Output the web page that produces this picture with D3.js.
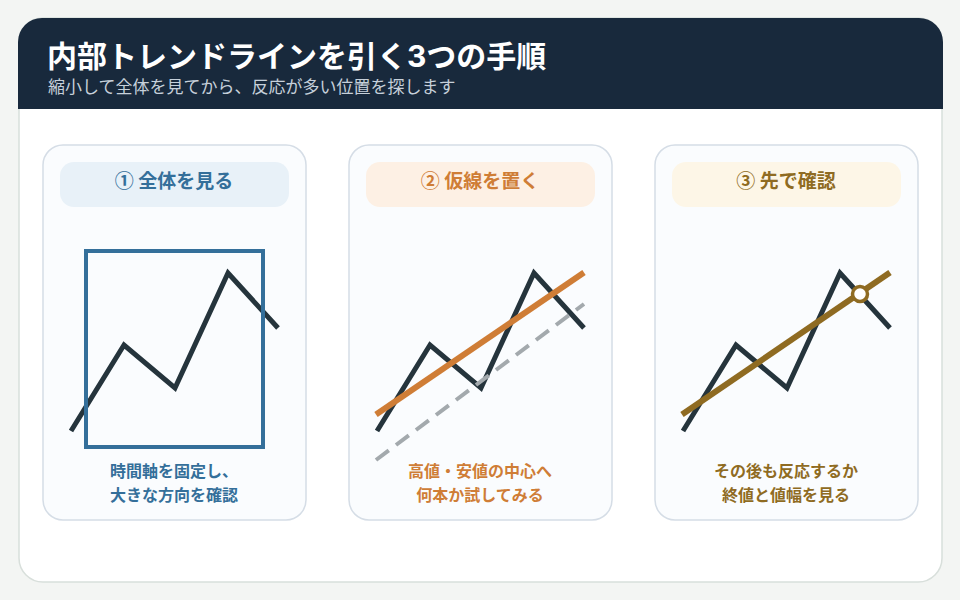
<!DOCTYPE html>
<html lang="ja">
<head>
<meta charset="utf-8">
<script src="https://cdn.jsdelivr.net/npm/d3@7"></script>
<style>
  html, body { margin: 0; padding: 0; background: #f3f5f3; }
  svg { display: block; }
  text { font-family: Inter, "Noto Sans CJK JP", sans-serif; }
  text.step { font-family: "Noto Sans CJK JP", sans-serif; }
</style>
</head>
<body>
<div id="chart"></div>
<script>
//Chart text
const titleText = "内部トレンドラインを引く3つの手順";
const subtitleText = "縮小して全体を見てから、反応が多い位置を探します";
const stepTitles = ["① 全体を見る", "② 仮線を置く", "③ 先で確認"];
const stepNotes = [
    ["時間軸を固定し、", "大きな方向を確認"],
    ["高値・安値の中心へ", "何本か試してみる"],
    ["その後も反応するか", "終値と値幅を見る"]
];

//Price zigzag, same in every panel
const priceTimes = [0, 53, 104, 157, 207];
const priceValues = [0, 86, 43, 158, 103];

//Lines and markers, as [time, value]
const viewWindow = [[15, 180], [192, -16]];
const trendLine = [[-1, 16.5], [207, 158.5]];
const lowLine = [[-1, -29], [207, 127]];
const checkPoint = [177, 137];

const colors = {
    page: "#f3f5f3",
    cardBorder: "#d8dfdb",
    header: "#18293c",
    subtitle: "#c6d0da",
    panel: "#fafcfe",
    panelBorder: "#d5dde6",
    price: "#25343c",
    grey: "#a3a9ad"
};
const stepColors = ["#346f9a", "#cf7d36", "#8f6b22"];
const pillColors = ["#e8f1f8", "#fdf0e4", "#fdf6e7"];

const width = 960;
const height = 600;
const panelW = 263;
const panelH = 375;
const panelY = 145;
const panelStep = 306;

const svg = d3.select("#chart").append("svg")
    .attr("width", width)
    .attr("height", height);

svg.append("rect")
    .attr("width", width)
    .attr("height", height)
    .attr("fill", colors.page);

//Card
svg.append("rect")
    .attr("x", 19).attr("y", 18)
    .attr("width", 923).attr("height", 564)
    .attr("rx", 24)
    .attr("fill", "#fff")
    .attr("stroke", colors.cardBorder)
    .attr("stroke-width", 1.5);

//Header, rounded on top only
svg.append("path")
    .attr("d", "M18,109 V42 A24,24 0 0 1 42,18 H919 A24,24 0 0 1 943,42 V109 Z")
    .attr("fill", colors.header);

svg.append("text")
    .attr("x", 47).attr("y", 67)
    .attr("font-size", 30)
    .attr("font-weight", 700)
    .attr("fill", "#fff")
    .text(titleText);

svg.append("text")
    .attr("x", 48).attr("y", 93)
    .attr("font-size", 17)
    .attr("fill", colors.subtitle)
    .text(subtitleText);

//Scales, shared by all panels; each panel sits in its own translated group
const scaleX = d3.scaleLinear().domain([0, 207]).range([71, 278]);
const scaleY = d3.scaleLinear().domain([0, 158]).range([431, 273]);
const line = d3.line()
    .x(d => scaleX(d[0]))
    .y(d => scaleY(d[1]));
const pricePath = d3.zip(priceTimes, priceValues);

stepTitles.forEach(function(title, i) {
    const g = svg.append("g")
        .attr("transform", `translate(${i * panelStep},0)`);

    g.append("rect")
        .attr("x", 43).attr("y", panelY)
        .attr("width", panelW).attr("height", panelH)
        .attr("rx", 20)
        .attr("fill", colors.panel)
        .attr("stroke", colors.panelBorder)
        .attr("stroke-width", 1.5);

    g.append("rect")
        .attr("x", 60).attr("y", 162)
        .attr("width", 229).attr("height", 45)
        .attr("rx", 14)
        .attr("fill", pillColors[i]);

    g.append("text")
        .attr("class", "step")
        .attr("x", 174).attr("y", 188)
        .attr("text-anchor", "middle")
        .attr("font-size", 19)
        .attr("font-weight", 700)
        .attr("fill", stepColors[i])
        .text(title);

    //Grey dashed line goes over the price line, the solid trend too
    g.append("path")
        .datum(pricePath)
        .attr("d", line)
        .attr("fill", "none")
        .attr("stroke", colors.price)
        .attr("stroke-width", 5);

    if (i === 0) {
        g.append("rect")
            .attr("x", scaleX(viewWindow[0][0]))
            .attr("y", scaleY(viewWindow[0][1]))
            .attr("width", scaleX(viewWindow[1][0]) - scaleX(viewWindow[0][0]))
            .attr("height", scaleY(viewWindow[1][1]) - scaleY(viewWindow[0][1]))
            .attr("fill", "none")
            .attr("stroke", stepColors[0])
            .attr("stroke-width", 4);
    }
    if (i === 1) {
        g.append("path")
            .datum(lowLine)
            .attr("d", line)
            .attr("fill", "none")
            .attr("stroke", colors.grey)
            .attr("stroke-width", 4)
            .attr("stroke-dasharray", "16 9");
    }
    if (i > 0) {
        g.append("path")
            .datum(trendLine)
            .attr("d", line)
            .attr("fill", "none")
            .attr("stroke", stepColors[i])
            .attr("stroke-width", 6);
    }
    if (i === 2) {
        g.append("circle")
            .attr("cx", scaleX(checkPoint[0]))
            .attr("cy", scaleY(checkPoint[1]))
            .attr("r", 7.5)
            .attr("fill", "#fff")
            .attr("stroke", stepColors[2])
            .attr("stroke-width", 3.5);
    }

    g.selectAll("text.note")
        .data(stepNotes[i])
        .join("text")
        .attr("class", "note")
        .attr("x", 174)
        .attr("y", (d, j) => 477 + j * 24)
        .attr("text-anchor", "middle")
        .attr("font-size", 16)
        .attr("font-weight", 700)
        .attr("fill", stepColors[i])
        .text(d => d);
});
</script>
</body>
</html>
